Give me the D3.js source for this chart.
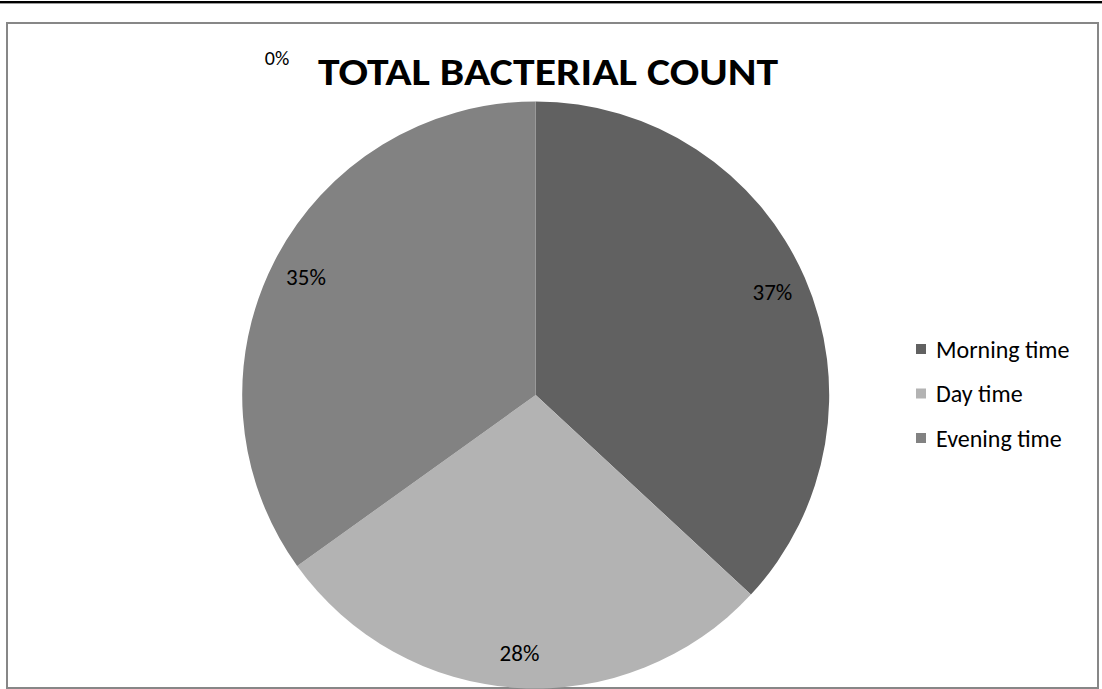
<!DOCTYPE html>
<html>
<head>
<meta charset="utf-8">
<script src="https://cdn.jsdelivr.net/npm/d3@7"></script>
<style>
  html, body { margin: 0; padding: 0; background: #fff; }
  svg { display: block; }
  text { font-family: Carlito, "Open Sans", "Liberation Sans", sans-serif; }
</style>
</head>
<body>
<svg id="chart" width="1102" height="689"></svg>
<script>
// Share of total bacterial count by sampling time (percent)
const categories = ["Morning time", "Day time", "Evening time"];
const values = [36.9, 28.2, 34.9];
const colors = ["#616161", "#b3b3b3", "#828282"];
const title = "TOTAL BACTERIAL COUNT";
// an empty fourth series shows up as a lone 0% label
const emptyLabel = "0%";

const svg = d3.select("#chart");
const W = 1102, H = 689;

// page rule at the top
svg.append("line").attr("x1", 0).attr("x2", W).attr("y1", 2).attr("y2", 2)
  .attr("stroke", "#000").attr("stroke-width", 2);
svg.append("line").attr("x1", 0).attr("x2", W).attr("y1", 3.5).attr("y2", 3.5)
  .attr("stroke", "#9a9a9a").attr("stroke-width", 1);

// chart frame
svg.append("rect").attr("x", 7).attr("y", 23).attr("width", 1091).attr("height", 665)
  .attr("fill", "#fff").attr("stroke", "#878787").attr("stroke-width", 2);

// title
svg.append("text").attr("x", 548).attr("y", 85)
  .attr("text-anchor", "middle")
  .attr("font-size", 39).attr("font-weight", "bold").attr("fill", "#000")
  .attr("textLength", 460).attr("lengthAdjust", "spacingAndGlyphs")
  .text(title);

// pie
const cx = 535.7, cy = 395, R = 293.5;
const total = d3.sum(values);
const pie = d3.pie().sort(null).value(d => d.v);
const arcs = pie(categories.map((c, i) => ({ c, v: values[i], color: colors[i] })));
const arc = d3.arc().innerRadius(0).outerRadius(R);
const labelArc = d3.arc().innerRadius(R * 0.88).outerRadius(R * 0.88);

const g = svg.append("g").attr("transform", `translate(${cx},${cy})`);
g.selectAll("path.slice").data(arcs).join("path")
  .attr("class", "slice")
  .attr("d", arc)
  .attr("fill", d => d.data.color);

const fmt = d3.format(".0%");
g.selectAll("text.pct").data(arcs).join("text")
  .attr("class", "pct")
  .attr("transform", d => `translate(${labelArc.centroid(d)})`)
  .attr("text-anchor", "middle")
  .attr("dominant-baseline", "central")
  .attr("font-size", 23).attr("fill", "#000")
  .text(d => fmt(d.data.v / total));

// empty-series label
svg.append("text").attr("x", 277).attr("y", 58)
  .attr("text-anchor", "middle")
  .attr("dominant-baseline", "central")
  .attr("font-size", 20).attr("fill", "#000")
  .text(emptyLabel);

// legend
const legend = svg.append("g").attr("transform", "translate(916,349)");
const item = legend.selectAll("g").data(categories).join("g")
  .attr("transform", (d, i) => `translate(0,${i * 44.5})`);
item.append("rect").attr("x", 0).attr("y", -5).attr("width", 10).attr("height", 10)
  .attr("fill", (d, i) => colors[i]);
item.append("text").attr("x", 20).attr("y", 0)
  .attr("dominant-baseline", "central")
  .attr("font-size", 24).attr("fill", "#000")
  .text(d => d);
</script>
</body>
</html>
